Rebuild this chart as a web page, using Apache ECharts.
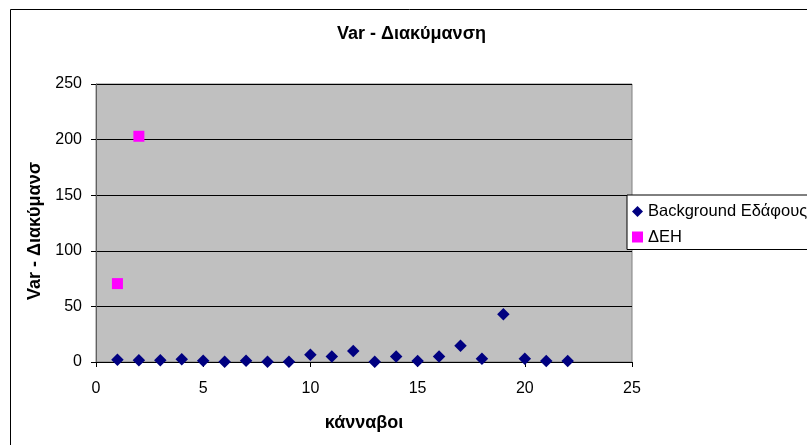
<!DOCTYPE html>
<html><head><meta charset="utf-8">
<script src="https://cdn.jsdelivr.net/npm/echarts@6/dist/echarts.min.js"></script>
<style>html,body{margin:0;padding:0;background:#fff}#c{width:807px;height:445px}</style>
</head><body><div id="c"></div>
<script>
const titleText = 'Var - Διακύμανση';
const xName = 'κάνναβοι';
const yName = 'Var - Διακύμανσ';
const bgName = 'Background Εδάφους';
const dehName = 'ΔΕΗ';
const bgX = [1,2,3,4,5,6,7,8,9,10,11,12,13,14,15,16,17,18,19,20,21,22];
const bgY = [2,1.5,1.5,2.5,1.2,0.3,1.2,0.3,0.3,6.5,5,10,0.3,5,1,5,14.6,3,43,3,1,1];
const dehX = [1,2];
const dehY = [70.5,203];

const chart = echarts.init(document.getElementById('c'));
const font = 'Arial, "Liberation Sans", sans-serif';
chart.setOption({
  animation:false,
  backgroundColor:'#fff',
  graphic:[{type:'rect',left:8,top:7,shape:{width:900,height:500},style:{fill:'none',stroke:'#000',lineWidth:1},silent:true,z:-1}],
  title:{text:titleText,left:337,top:25,padding:0,textStyle:{fontFamily:font,fontSize:18,fontWeight:'bold',color:'#000'}},
  legend:{orient:'vertical',left:627,top:195,backgroundColor:'#fff',borderColor:'#000',borderWidth:1,
    padding:[8,80,4,5],itemGap:8.5,itemWidth:11,itemHeight:11,
    textStyle:{fontFamily:font,fontSize:16.5,color:'#000'},
    data:[{name:bgName,icon:'diamond'},{name:dehName,icon:'rect'}]},
  grid:{left:96,top:84,right:175,bottom:83,show:true,backgroundColor:'#c0c0c0',borderColor:'#808080',borderWidth:1},
  xAxis:{type:'value',min:0,max:25,interval:5,name:xName,nameLocation:'middle',nameGap:52,
    nameTextStyle:{fontFamily:font,fontSize:18,fontWeight:'bold',color:'#000'},
    axisLine:{lineStyle:{color:'#000'}},axisTick:{show:true,length:5,lineStyle:{color:'#000'}},
    axisLabel:{fontFamily:font,fontSize:16,color:'#000',margin:19},splitLine:{show:false}},
  yAxis:{type:'value',min:0,max:250,interval:50,name:yName,nameLocation:'middle',nameRotate:90,nameGap:49,
    nameTextStyle:{fontFamily:font,fontSize:18,fontWeight:'bold',color:'#000',padding:[0,16,0,0]},
    axisLine:{show:true,lineStyle:{color:'#606060'}},axisTick:{show:true,length:5,lineStyle:{color:'#000'}},
    axisLabel:{fontFamily:font,fontSize:16,color:'#000',margin:14},splitLine:{show:true,lineStyle:{color:'#000'}}},
  series:[
    {name:bgName,type:'scatter',symbol:'diamond',symbolSize:12.5,itemStyle:{color:'#000080',opacity:1},
     data:bgX.map((x,i)=>[x,bgY[i]])},
    {name:dehName,type:'scatter',symbol:'rect',symbolSize:11,itemStyle:{color:'#ff00ff',opacity:1},
     data:dehX.map((x,i)=>[x,dehY[i]])}
  ]
});
</script></body></html>
